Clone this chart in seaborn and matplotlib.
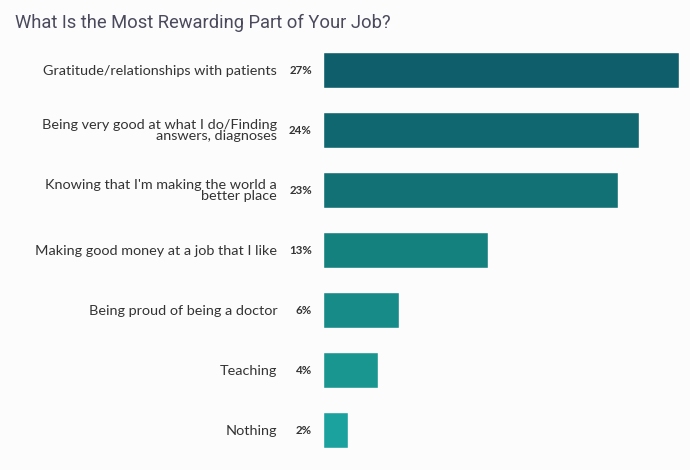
import matplotlib
matplotlib.use("Agg")
import matplotlib.pyplot as plt
import seaborn as sns
import pandas as pd

# data
categories = [
    "Gratitude/relationships with patients",
    "Being very good at what I do/Finding\nanswers, diagnoses",
    "Knowing that I'm making the world a\nbetter place",
    "Making good money at a job that I like",
    "Being proud of being a doctor",
    "Teaching",
    "Nothing",
]
bar_lengths = [27, 24, 22.4, 12.5, 5.8, 4.2, 1.9]
pct_labels = ["27%", "24%", "23%", "13%", "6%", "4%", "2%"]
bar_colors = ["#0f5e6b", "#10676f", "#127175", "#15817f", "#178b88", "#199690", "#1ba29e"]

sns.set_theme(style="white")
plt.rcParams["font.family"] = ["Lato", "DejaVu Sans"]

df = pd.DataFrame({"category": categories, "value": bar_lengths})

fig = plt.figure(figsize=(6.9, 4.7), dpi=100, facecolor="#fcfcfd")
ax = fig.add_axes([323 / 690, 10 / 470, 356 / 690, 420 / 470])
ax.set_facecolor("#fcfcfd")

sns.barplot(
    data=df, x="value", y="category", hue="category",
    palette=dict(zip(categories, bar_colors)),
    width=0.6, legend=False, ax=ax, saturation=1,
)

ax.set_xlim(0, 27)
ax.set_ylim(6.5, -0.5)
ax.set_xlabel("")
ax.set_ylabel("")
ax.set_xticks([])
sns.despine(ax=ax, left=True, bottom=True)
ax.tick_params(axis="y", length=0, pad=33, labelsize=10.4, labelcolor="#333333")
for t in ax.get_yticklabels():
    t.set_linespacing(0.85)
    t.set_multialignment("right")

# percentage labels just left of the bars
for i, lab in enumerate(pct_labels):
    ax.annotate(lab, xy=(0, i), xytext=(-8, 0), textcoords="offset points",
                ha="right", va="center", fontsize=8.3, fontweight="bold",
                color="#333333")

fig.text(15 / 690, 1 - 23 / 470, "What Is the Most Rewarding Part of Your Job?",
         fontsize=13.2, color="#4b4a5c", ha="left", va="center",
         family=["Roboto", "DejaVu Sans"])

fig.savefig("out.png", dpi=100, facecolor=fig.get_facecolor())
